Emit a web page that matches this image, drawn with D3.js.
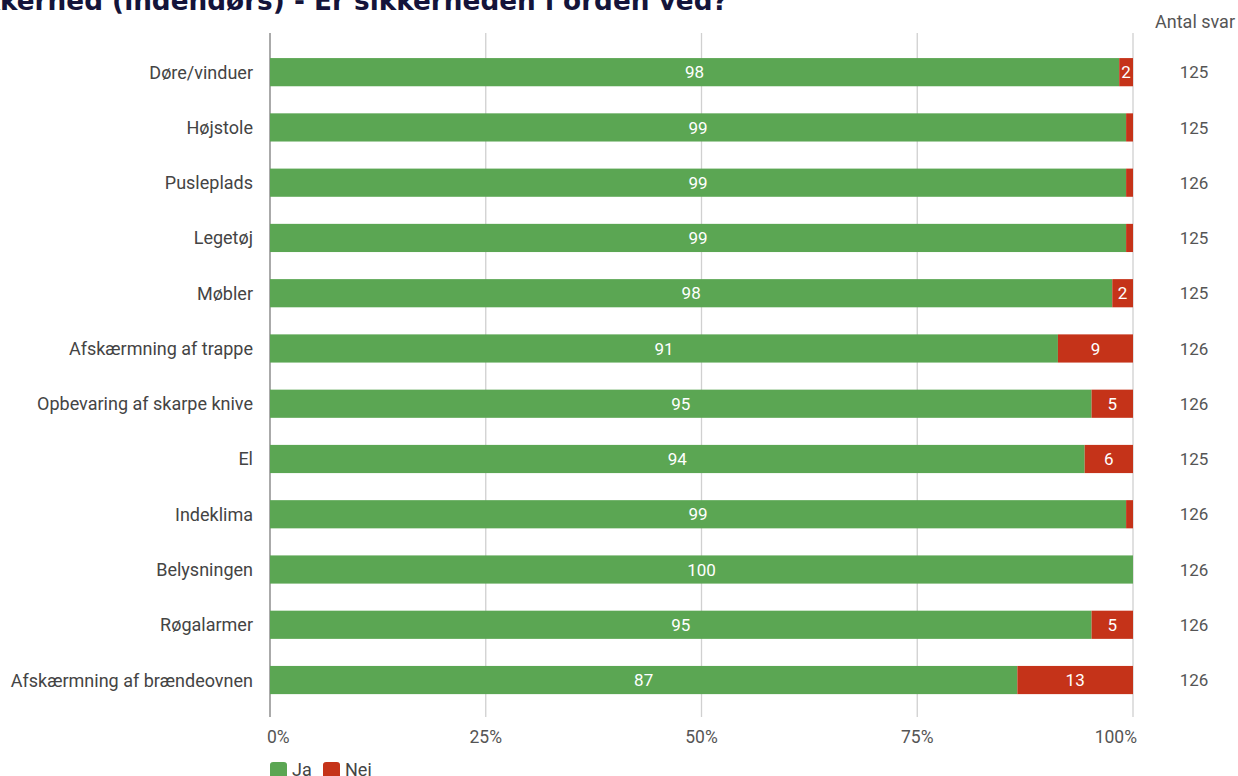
<!DOCTYPE html>
<html>
<head>
<meta charset="utf-8">
<script src="https://cdn.jsdelivr.net/npm/d3@7"></script>
<style>
  body { margin: 0; background: #fff; }
  svg { display: block; font-family: Roboto, sans-serif; }
</style>
</head>
<body>
<svg id="chart" width="1238" height="776"></svg>
<script>
// Andel svar (procent) pr. emne
var categories = ["Døre/vinduer", "Højstole", "Pusleplads", "Legetøj", "Møbler",
  "Afskærmning af trappe", "Opbevaring af skarpe knive", "El", "Indeklima",
  "Belysningen", "Røgalarmer", "Afskærmning af brændeovnen"];
var jaValues  = [98.4, 99.2, 99.2, 99.2, 97.6, 91.3, 95.2, 94.4, 99.2, 100, 95.2, 86.6];
var nejValues = [1.6, 0.8, 0.8, 0.8, 2.4, 8.7, 4.8, 5.6, 0.8, 0, 4.8, 13.4];
var antalSvar = [125, 125, 126, 125, 125, 126, 126, 125, 126, 126, 126, 126];
var tickValues = [0, 25, 50, 75, 100];
var seriesNames = ["Ja", "Nej"];
var colors = ["#5ba653", "#c53319"];

var svg = d3.select("#chart");

var x = d3.scaleLinear().domain([0, 100]).range([270, 1133]);
var y = d3.scaleBand().domain(categories).range([31, 721.2]).padding(0.49);

// title (cut at left edge like the original)
var title = svg.append("text")
    .attr("y", 10)
    .style("font-family", "'DejaVu Sans', Verdana, sans-serif")
    .style("font-weight", "bold")
    .style("font-size", "20px")
    .style("fill", "#14143a")
    .text("Sikkerhed (indendørs) - Er sikkerheden i orden ved?");
// scale so the visible part matches width, then shift "Sik" off-screen
var probe = svg.append("text")
    .style("font-family", "'DejaVu Sans', Verdana, sans-serif")
    .style("font-weight", "bold")
    .style("font-size", "20px")
    .text("kerhed (indendørs) - Er sikkerheden i orden ved?");
var fs = 20 * 728 / probe.node().getComputedTextLength();
probe.text("Sik").style("font-size", fs + "px");
var off = probe.node().getComputedTextLength();
probe.remove();
title.style("font-size", fs + "px").attr("x", -off);

// grid
svg.append("g").selectAll("line")
  .data(tickValues)
  .enter().append("line")
    .attr("x1", function(d) { return x(d); })
    .attr("x2", function(d) { return x(d); })
    .attr("y1", 33)
    .attr("y2", 717)
    .style("stroke", function(d) { return d === 0 ? "#aaa" : "#d0d0d0"; })
    .style("stroke-width", function(d) { return d === 0 ? 2 : 1.3; });

// tick labels
svg.append("g").selectAll("text")
  .data(tickValues)
  .enter().append("text")
    .attr("x", function(d) { return d === 0 ? x(d) - 3 : d === 100 ? x(d) + 4 : x(d); })
    .attr("y", 743)
    .attr("text-anchor", function(d) { return d === 0 ? "start" : d === 100 ? "end" : "middle"; })
    .style("font-size", "17.5px")
    .style("fill", "#555")
    .text(function(d) { return d + "%"; });

// stacked bars
var rows = categories.map(function(c, i) {
  return { cat: c, segs: [
    { k: 0, x0: 0, x1: jaValues[i], v: jaValues[i] },
    { k: 1, x0: jaValues[i], x1: jaValues[i] + nejValues[i], v: nejValues[i] }
  ] };
});

var row = svg.append("g").selectAll("g")
  .data(rows)
  .enter().append("g");

row.selectAll("rect")
  .data(function(d) { return d.segs.map(function(s) { s.cat = d.cat; return s; }); })
  .enter().append("rect")
    .attr("x", function(d) { return x(d.x0); })
    .attr("width", function(d) { return x(d.x1) - x(d.x0); })
    .attr("y", function(d) { return y(d.cat); })
    .attr("height", y.bandwidth())
    .style("fill", function(d) { return colors[d.k]; });

row.selectAll("text.val")
  .data(function(d) { return d.segs.filter(function(s) { return x(s.x1) - x(s.x0) > 12; }); })
  .enter().append("text")
    .attr("class", "val")
    .attr("x", function(d) { return (x(d.x0) + x(d.x1)) / 2; })
    .attr("y", function(d) { return y(d.cat) + y.bandwidth() / 2; })
    .attr("dy", "0.36em")
    .attr("text-anchor", "middle")
    .style("font-size", "17px")
    .style("fill", "#fff")
    .text(function(d) { return Math.round(d.v); });

// category labels
svg.append("g").selectAll("text")
  .data(categories)
  .enter().append("text")
    .attr("x", 253)
    .attr("y", function(d) { return y(d) + y.bandwidth() / 2; })
    .attr("dy", "0.36em")
    .attr("text-anchor", "end")
    .style("font-size", "18px")
    .style("fill", "#444")
    .text(function(d) { return d; });

// antal svar
svg.append("text")
    .attr("x", 1235)
    .attr("y", 28)
    .attr("text-anchor", "end")
    .style("font-size", "18px")
    .style("fill", "#555")
    .text("Antal svar");

svg.append("g").selectAll("text")
  .data(antalSvar)
  .enter().append("text")
    .attr("x", 1194)
    .attr("y", function(d, i) { return y(categories[i]) + y.bandwidth() / 2; })
    .attr("dy", "0.36em")
    .attr("text-anchor", "middle")
    .style("font-size", "17px")
    .style("fill", "#555")
    .text(function(d) { return d; });

// legend
var leg = svg.append("g").selectAll("g")
  .data(seriesNames)
  .enter().append("g")
    .attr("transform", function(d, i) { return "translate(" + (270 + i * 53) + ",762)"; });
leg.append("rect")
    .attr("width", 17).attr("height", 17).attr("rx", 3)
    .style("fill", function(d, i) { return colors[i]; });
leg.append("text")
    .attr("x", 22).attr("y", 14)
    .style("font-size", "18px")
    .style("fill", "#444")
    .text(function(d) { return d; });
</script>
</body>
</html>
